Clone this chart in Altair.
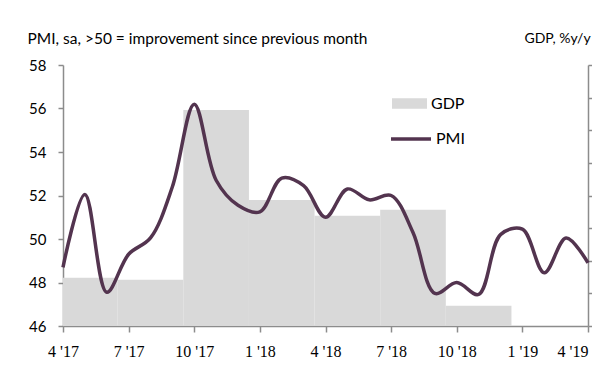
import json
import altair as alt
import pandas as pd

# ---- data ----
X_TICK_LABELS = ["4 '17", "7 '17", "10 '17", "1 '18", "4 '18", "7 '18", "10 '18", "1 '19", "4 '19"]

# monthly PMI, Apr 2017 .. Apr 2019
PMI_MONTHS = ["2017-04", "2017-05", "2017-06", "2017-07", "2017-08", "2017-09", "2017-10",
              "2017-11", "2017-12", "2018-01", "2018-02", "2018-03", "2018-04", "2018-05",
              "2018-06", "2018-07", "2018-08", "2018-09", "2018-10", "2018-11", "2018-12",
              "2019-01", "2019-02", "2019-03", "2019-04"]
PMI_VALUES = [48.7, 52.05, 47.55, 49.3, 50.05, 52.4, 56.2,
              52.7, 51.55, 51.25, 52.8, 52.45, 51.0, 52.3,
              51.8, 52.0, 50.3, 47.5, 48.0, 47.45, 50.2,
              50.45, 48.45, 50.05, 48.9]

# quarterly GDP, %y/y (right axis)
GDP_QUARTERS = ["Q2 '17", "Q3 '17", "Q4 '17", "Q1 '18", "Q2 '18", "Q3 '18", "Q4 '18"]
GDP_MID_MONTH = [1, 4, 7, 10, 13, 16, 19]   # middle month of quarter, months since Apr 2017
GDP_VALUES = [1.48, 1.42, 6.62, 3.86, 3.38, 3.56, 0.62]

PMI_TICKS = [46, 48, 50, 52, 54, 56, 58]
GDP_TICKS = [0, 1, 2, 3, 4, 5, 6, 7, 8]

LINE_COLOR = "#53344f"
BAR_COLOR = "#d9d9d9"
AXIS_COLOR = "#8c8c8c"
SANS = "Lato"

pmi_df = pd.DataFrame({"month": PMI_MONTHS, "m": list(range(len(PMI_VALUES))),
                       "pmi": PMI_VALUES, "series": "PMI"})
gdp_df = pd.DataFrame({"quarter": GDP_QUARTERS, "mid": GDP_MID_MONTH,
                       "gdp": GDP_VALUES, "series": "GDP"})

label_expr = json.dumps(X_TICK_LABELS) + "[round(datum.value / 3)]"
x_scale = alt.Scale(domain=[0, 24], nice=False, zero=False)
x_axis = alt.Axis(values=list(range(0, 25, 3)), labelExpr=label_expr, title=None,
                  tickSize=6, labelPadding=11, labelFont="Liberation Serif",
                  labelFontSize=16, grid=False, labelFlush=False,
                  labelAlign={"condition": {"test": "datum.value >= 24", "value": "right"},
                              "value": "center"})

bars = alt.Chart(gdp_df).transform_calculate(
    start="datum.mid - 1.5", end="datum.mid + 1.5", base="0"
).mark_rect(clip=True, strokeWidth=0).encode(
    x=alt.X("start:Q", scale=x_scale, axis=x_axis),
    x2="end:Q",
    y=alt.Y("gdp:Q", scale=alt.Scale(domain=[0, 8], nice=False, zero=True),
            axis=alt.Axis(orient="right", values=GDP_TICKS, labels=False, tickSize=4,
                          grid=False, title="GDP, %y/y", titleAngle=0, titleAlign="left",
                          titleBaseline="middle", titleX=-64, titleY=-27,
                          titleFont=SANS, titleFontSize=14, titleFontWeight="normal")),
    y2="base:Q",
    fill=alt.Fill("series:N", scale=alt.Scale(domain=["GDP"], range=[BAR_COLOR]),
                  legend=alt.Legend(orient="none", legendX=329, legendY=21, title=None,
                                    padding=0, symbolType="M-1,-0.3H1V0.3H-1Z",
                                    symbolSize=1225, symbolStrokeWidth=0,
                                    symbolFillColor=BAR_COLOR, labelFont=SANS,
                                    labelFontSize=16, labelOffset=4)),
)

line = alt.Chart(pmi_df).mark_line(interpolate="catmull-rom", strokeWidth=3.5).encode(
    x=alt.X("m:Q", scale=x_scale, axis=x_axis),
    y=alt.Y("pmi:Q", scale=alt.Scale(domain=[46, 58], nice=False, zero=False),
            axis=alt.Axis(orient="left", values=PMI_TICKS, tickSize=5, labelPadding=12,
                          grid=False, labelFont=SANS, labelFontSize=15,
                          title="PMI, sa, >50 = improvement since previous month",
                          titleAngle=0, titleAlign="left", titleBaseline="middle",
                          titleX=-36, titleY=-27, titleFont=SANS, titleFontSize=15.5,
                          titleFontWeight="normal")),
    stroke=alt.Stroke("series:N", scale=alt.Scale(domain=["PMI"], range=[LINE_COLOR]),
                      legend=alt.Legend(orient="none", legendX=326, legendY=52, title=None,
                                        padding=0, symbolType="stroke", symbolSize=1600,
                                        symbolStrokeWidth=3.5, labelFont=SANS,
                                        labelFontSize=16, labelOffset=3)),
)

chart = alt.layer(bars, line).resolve_scale(
    y="independent", fill="independent", stroke="independent"
).properties(
    width=525, height=261,
    autosize=alt.AutoSizeParams(type="none"),
    padding={"left": 55, "top": 57, "right": 4, "bottom": 40},
).configure_view(stroke="transparent").configure_axis(
    domainColor=AXIS_COLOR, tickColor=AXIS_COLOR, labelColor="#000000",
    titleColor="#000000", domainWidth=1.5, tickWidth=1.5
).configure_legend(labelColor="#000000")

chart.save("out.html", embed_options={"renderer": "svg", "actions": False})
